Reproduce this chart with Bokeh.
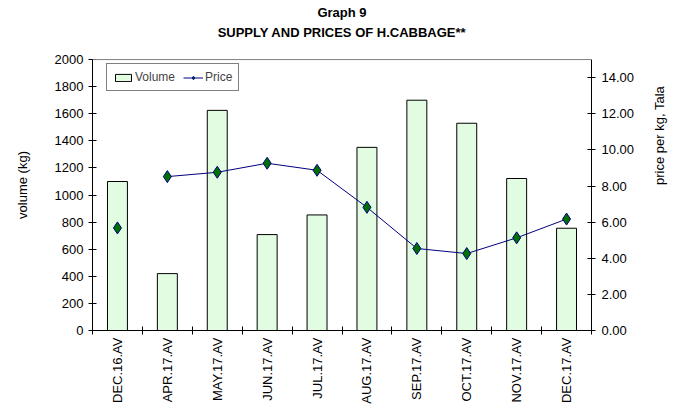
import numpy as np
from bokeh.plotting import figure
from bokeh.models import (Range1d, LinearAxis, FixedTicker, Title, Legend, LegendItem,
                          NumeralTickFormatter, ColumnDataSource, Span)
from bokeh.embed import file_html
from bokeh.resources import INLINE

categories = ["DEC.16.AV", "APR.17.AV", "MAY.17.AV", "JUN.17.AV", "JUL.17.AV",
              "AUG.17.AV", "SEP.17.AV", "OCT.17.AV", "NOV.17.AV", "DEC.17.AV"]
volume = [1100, 420, 1625, 708, 853, 1352, 1700, 1530, 1122, 755]
price = [5.68, 8.52, 8.76, 9.26, 8.87, 6.82, 4.54, 4.26, 5.13, 6.17]
vol_ticks = list(range(0, 2001, 200))
price_ticks = [0, 2, 4, 6, 8, 10, 12, 14]
VOL_MAX, PRICE_MAX = 2000, 15

FONT = "Liberation Sans"
FS = "13px"
n = len(categories)
xc = [i + 0.5 for i in range(n)]
bounds = list(range(n + 1))

# frame spans 290 px; the value axes occupy the lower 270 px of it
stretch = 290.0 / 270.0
p = figure(width=677, height=406, output_backend="svg", toolbar_location=None,
           x_range=Range1d(0, n), y_range=Range1d(0, VOL_MAX * stretch),
           min_border_left=92, min_border_right=80, min_border_top=0, min_border_bottom=76)
p.extra_y_ranges = {"price": Range1d(0, PRICE_MAX * stretch)}
p.xgrid.visible = False
p.ygrid.visible = False
p.outline_line_color = None
p.background_fill_color = "white"
p.border_fill_color = "white"

# top border of the plot area
p.add_layout(Span(location=VOL_MAX, dimension="width", line_color="#808080", line_width=1))

src = ColumnDataSource(dict(x=xc, vol=volume, price=price))
bars = p.vbar(x="x", top="vol", width=0.4, source=src, fill_color="#e2fce2",
              line_color="black", line_width=1)
# Price line (no data between DEC.16 and APR.17 -> gap)
line_src = ColumnDataSource(dict(x=xc[1:], price=price[1:]))
ln = p.line(x="x", y="price", source=line_src, y_range_name="price",
            line_color="#000080", line_width=1)
pts = p.scatter(x="x", y="price", source=src, y_range_name="price", marker="diamond",
                size=12, fill_color="#007000", line_color="#000080", line_width=1)

# x axis
xa = p.xaxis[0]
xa.ticker = FixedTicker(ticks=xc, minor_ticks=bounds)
xa.major_label_overrides = {v: c for v, c in zip(xc, categories)}
xa.major_label_orientation = np.pi / 2
xa.major_tick_in = 0
xa.major_tick_out = 0
xa.minor_tick_in = 4
xa.minor_tick_out = 4
xa.minor_tick_line_color = "black"
xa.axis_line_color = "black"
xa.major_label_text_font = FONT
xa.major_label_text_font_size = FS
xa.major_label_text_color = "black"
xa.major_label_standoff = 3

# left axis
ya = p.yaxis[0]
ya.ticker = FixedTicker(ticks=vol_ticks)
ya.bounds = (0, VOL_MAX)
ya.major_tick_in = 4
ya.major_tick_out = 4
ya.minor_tick_line_color = None
ya.axis_label = "volume (kg)"
ya.axis_label_text_font = FONT
ya.axis_label_text_font_size = FS
ya.axis_label_text_font_style = "normal"
ya.axis_label_text_color = "black"
ya.axis_label_standoff = 22
ya.major_label_text_font = FONT
ya.major_label_text_font_size = FS
ya.major_label_text_color = "black"
ya.major_label_standoff = 5

# right axis
ra = LinearAxis(y_range_name="price", ticker=FixedTicker(ticks=price_ticks),
                formatter=NumeralTickFormatter(format="0.00"), bounds=(0, PRICE_MAX))
ra.major_tick_in = 4
ra.major_tick_out = 4
ra.minor_tick_line_color = None
ra.axis_label = "price per kg, Tala"
ra.axis_label_orientation = np.pi / 2
ra.axis_label_text_font = FONT
ra.axis_label_text_font_size = FS
ra.axis_label_text_font_style = "normal"
ra.axis_label_text_color = "black"
ra.axis_label_standoff = 22
ra.major_label_text_font = FONT
ra.major_label_text_font_size = FS
ra.major_label_text_color = "black"
ra.major_label_standoff = 6
p.add_layout(ra, "right")

# titles
t2 = Title(text="SUPPLY AND PRICES OF H.CABBAGE**", align="center", standoff=0,
           text_font=FONT, text_font_size=FS, text_font_style="bold", text_color="black")
t1 = Title(text="Graph 9", align="center", standoff=5,
           text_font=FONT, text_font_size=FS, text_font_style="bold", text_color="black")
p.add_layout(t2, "above")
p.add_layout(t1, "above")

legend = Legend(items=[LegendItem(label="Volume", renderers=[bars]),
                       LegendItem(label="Price", renderers=[ln, pts])],
                location=(14, 239), orientation="horizontal",
                label_text_font=FONT, label_text_font_size="12px",
                border_line_color="black", border_line_width=1,
                glyph_width=20, glyph_height=9, label_standoff=2, spacing=8,
                padding=6, margin=0, background_fill_alpha=1)
p.add_layout(legend, "center")

open("out.html", "w").write(file_html(p, INLINE))
